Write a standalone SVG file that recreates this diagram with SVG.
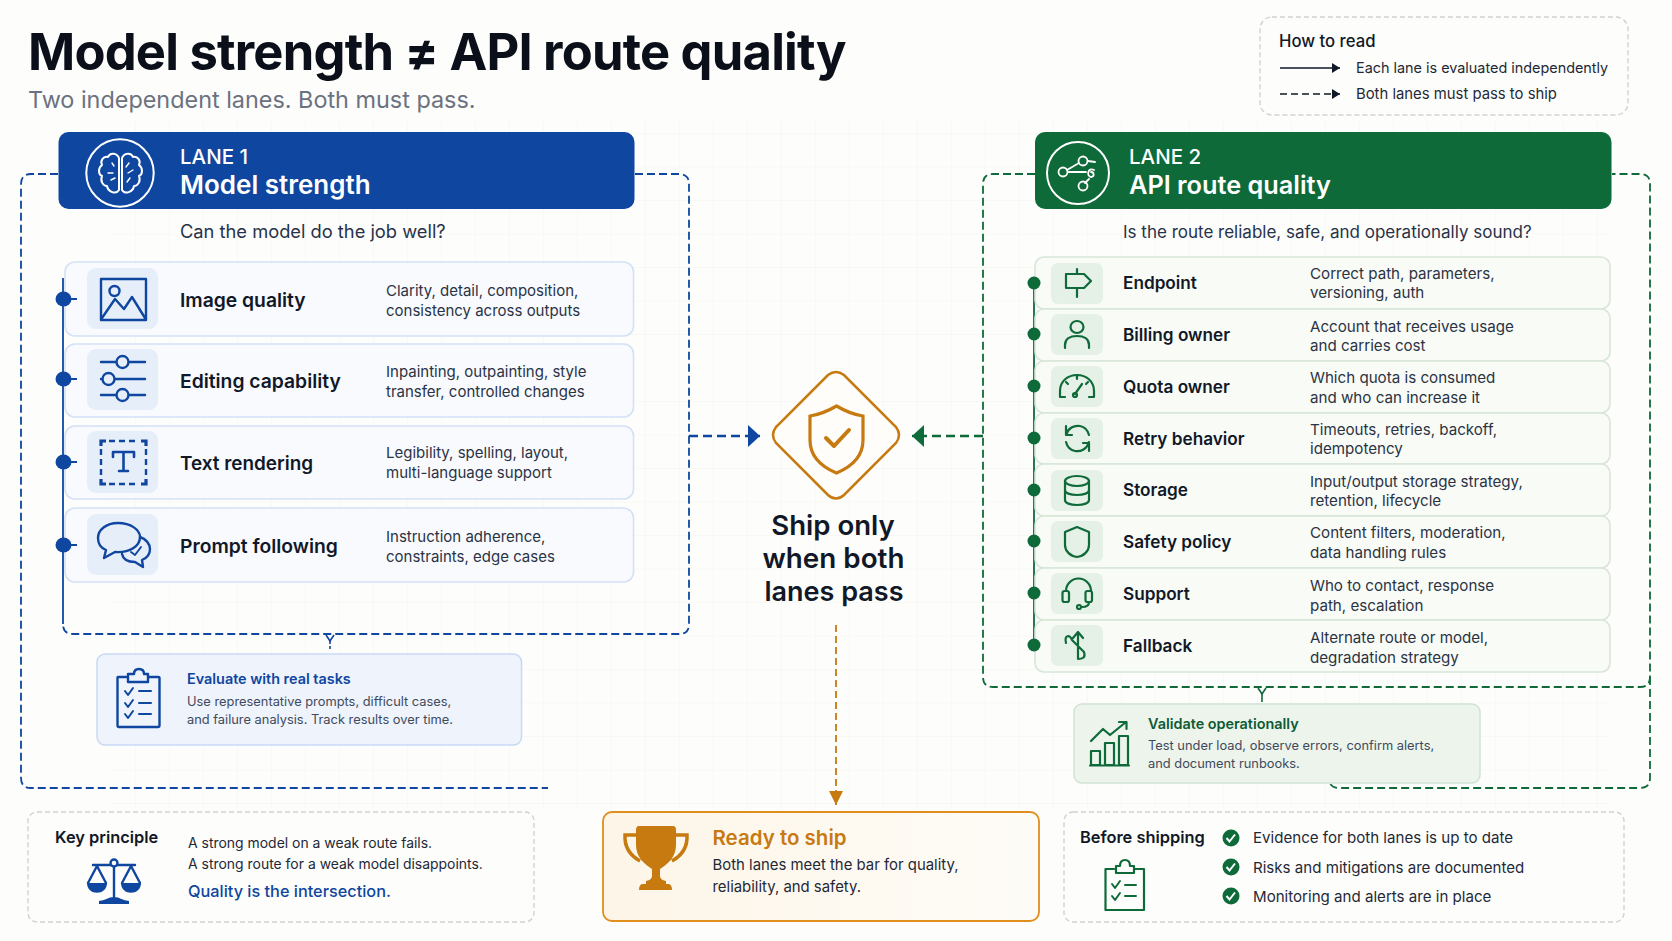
<svg xmlns="http://www.w3.org/2000/svg" width="1672" height="941" viewBox="0 0 1672 941">
<style>
text{font-family:Inter,"Liberation Sans",sans-serif;fill:#1f2937}
.lane{font-size:20.5px;font-weight:500;fill:#fff}
.laneT{font-size:26px;font-weight:600;fill:#fff}
.q{font-size:18.3px;fill:#27324a}
.t1{font-size:19.3px;font-weight:600;fill:#111827}
.t2{font-size:17.2px;font-weight:600;fill:#111827}
.d1{font-size:15px;fill:#2a3344}
.d2{font-size:15.15px;fill:#2a3344}
.s{font-size:12.85px;fill:#3f4a5c}
.h{font-size:16.4px;font-weight:600;fill:#111827}
.b{font-size:13.95px;fill:#1f2937}
.c{font-size:15.1px;fill:#1f2937}
.ctr{font-weight:600;fill:#111827}
.row1{fill:#f8fafe;stroke:#d4e1f7;stroke-width:1.6}
.row2{fill:#f9fbf6;stroke:#d8e6d9;stroke-width:1.6}
.tile1{fill:#e6eefa}
.tile2{fill:#e5f0e6}
.ib{fill:none;stroke:#0f46a0;stroke-width:2.4;stroke-linecap:round;stroke-linejoin:round}
.ig{fill:none;stroke:#0e6a39;stroke-width:2.2;stroke-linecap:round;stroke-linejoin:round}
.iw{fill:none;stroke:#fff;stroke-width:2;stroke-linecap:round;stroke-linejoin:round}
.dashb{fill:none;stroke:#0f46a0;stroke-width:1.8;stroke-dasharray:8 4}
.dashg{fill:none;stroke:#0e6a39;stroke-width:1.8;stroke-dasharray:8 4}
.grey{fill:#fdfdfb;stroke:#cfd2d6;stroke-width:1.4;stroke-dasharray:5 3}
.db{fill:#0f46a0}.dg{fill:#0e6a39}
</style>
<defs>
<pattern id="g" width="34" height="33.5" patternUnits="userSpaceOnUse"><path d="M34 0V33.5M0 33.5H34" fill="none" stroke="#f3f4ef" stroke-width="1"/></pattern>
<linearGradient id="readyFill" x1="0" y1="0" x2="1" y2="0"><stop offset="0" stop-color="#fdf5e7"/><stop offset="1" stop-color="#fefcf8"/></linearGradient>
<marker id="ab" markerUnits="userSpaceOnUse" markerWidth="14" markerHeight="24" refX="13" refY="12" orient="auto"><path d="M1 1L13 12L1 23Z" fill="#0f46a0"/></marker>
<marker id="ag" markerUnits="userSpaceOnUse" markerWidth="14" markerHeight="24" refX="13" refY="12" orient="auto"><path d="M1 1L13 12L1 23Z" fill="#0e6a39"/></marker>
<marker id="ao" markerUnits="userSpaceOnUse" markerWidth="16" markerHeight="14" refX="15" refY="7" orient="auto"><path d="M1 0L15 7L1 14Z" fill="#c67a10"/></marker>
<marker id="ak" markerUnits="userSpaceOnUse" markerWidth="10" markerHeight="12" refX="9" refY="6" orient="auto"><path d="M1 1L9 6L1 11Z" fill="#111827"/></marker>
</defs>
<rect width="1672" height="941" fill="#fdfdfb"/>
<rect x="110" y="120" width="1500" height="690" fill="url(#g)"/>
<g id="title">
<text x="28" y="70" style="font-size:50.7px;font-weight:700;fill:#0b0f19;letter-spacing:-0.8px">Model strength ≠ API route quality</text>
<text x="28" y="108" style="font-size:23.4px;fill:#6b7280">Two independent lanes. Both must pass.</text>
</g>
<g id="connectors">
<path class="dashb" d="M58 174H31Q21 174 21 184V778Q21 788 31 788H548"/>
<path class="dashb" d="M635 174H679Q689 174 689 184V624Q689 634 679 634H73Q63 634 63 624"/>
<path d="M63 278V624" fill="none" stroke="#0f46a0" stroke-width="1.8"/>
<path d="M326 635L330 641L334 635" fill="none" stroke="#0f46a0" stroke-width="1.6"/><path d="M330 641V650" fill="none" stroke="#0f46a0" stroke-width="1.6" stroke-dasharray="3 2"/>
<path class="dashb" d="M689 436H760" style="stroke-width:2.4;stroke-dasharray:9 5" marker-end="url(#ab)"/>
<path class="dashg" d="M1035 174H993Q983 174 983 184V677Q983 687 993 687H1640Q1650 687 1650 677V184Q1650 174 1640 174H1612"/>
<path class="dashg" d="M1650 677V778Q1650 788 1640 788H1339Q1329 788 1329 778"/>
<path d="M1258 688L1262 694L1266 688" fill="none" stroke="#0e6a39" stroke-width="1.6"/><path d="M1262 694V702" fill="none" stroke="#0e6a39" stroke-width="1.6"/>
<path class="dashg" d="M983 436H912" style="stroke-width:2.4;stroke-dasharray:9 5" marker-end="url(#ag)"/>
<path d="M836 625V805" fill="none" stroke="#c67a10" stroke-width="1.8" stroke-dasharray="7 4" marker-end="url(#ao)"/>
<path d="M1034 283V645" fill="none" stroke="#0e6a39" stroke-width="1.8"/>
</g>
<g id="legend">
<rect class="grey" x="1260" y="17" width="368" height="98" rx="12"/>
<text x="1279" y="47" style="font-size:16.7px;font-weight:500;fill:#111827">How to read</text>
<path d="M1280 68H1340" stroke="#111827" stroke-width="1.6" marker-end="url(#ak)"/>
<path d="M1280 94H1340" stroke="#111827" stroke-width="1.6" stroke-dasharray="7 4" marker-end="url(#ak)"/>
<text x="1356" y="73" style="font-size:14.4px;fill:#1f2937">Each lane is evaluated independently</text>
<text x="1356" y="99" style="font-size:14.85px;fill:#1f2937">Both lanes must pass to ship</text>
</g>
<g id="lane1-header">
<rect x="58.500" y="132" width="576" height="77" rx="10" fill="#0f46a0"/>
<circle class="iw" cx="120" cy="173" r="33.700"/>
<path class="iw" d="M119 158C117 153 110 152 108 157C103 156 100 161 102 165C98 168 98 174 102 176C100 181 103 186 107 186C108 192 116 195 119 190ZM122 158C124 153 131 152 133 157C138 156 141 161 139 165C143 168 143 174 139 176C141 181 138 186 134 186C133 192 125 195 122 190Z" style="stroke-width:2"/>
<path class="iw" d="M112 163L114 166M108 173H113M111 180L115 178M129 163L126 167M128 173L133 170M127 182L130 178" style="stroke-width:1.4"/>
<text class="lane" x="180" y="164">LANE 1</text>
<text class="laneT" x="180" y="194">Model strength</text>
</g>
<text class="q" x="180" y="238">Can the model do the job well?</text>
<g id="row-image-quality">
<rect class="row1" x="65" y="262" width="568.500" height="74" rx="10"/>
<rect class="tile1" x="87" y="268" width="71" height="61" rx="9"/>
<path class="ib" d="M101 279H146V320H101ZM102 318L115 299L124 309L132 297L145 318"/><circle class="ib" cx="114.500" cy="291" r="5"/>
<text class="t1" x="180" y="307">Image quality</text>
<text class="d1" x="386" y="296">Clarity, detail, composition,</text>
<text class="d1" x="386" y="316">consistency across outputs</text>
</g>
<g id="row-editing">
<rect class="row1" x="65" y="344" width="568.500" height="73" rx="10"/>
<rect class="tile1" x="87" y="349" width="71" height="61" rx="9"/>
<path class="ib" d="M101 362H116M129 362H145M101 379H102M115 379H145M101 395H116M129 395H145"/><circle class="ib" cx="122.500" cy="362" r="6"/><circle class="ib" cx="108.500" cy="379" r="6"/><circle class="ib" cx="122.500" cy="395" r="6"/>
<text class="t1" x="180" y="388">Editing capability</text>
<text class="d1" x="386" y="377">Inpainting, outpainting, style</text>
<text class="d1" x="386" y="397">transfer, controlled changes</text>
</g>
<g id="row-text">
<rect class="row1" x="65" y="426" width="568.500" height="73" rx="10"/>
<rect class="tile1" x="87" y="431" width="71" height="62" rx="9"/>
<path class="ib" d="M109 441H139M109 484H139M101 449V477M146 449V477" style="stroke-dasharray:6 4;stroke-linecap:butt"/>
<path class="ib" d="M101 446V441H106M141 441H146V446M101 479V484H106M141 484H146V479" style="stroke-width:3.2;stroke-linecap:butt;stroke-linejoin:miter"/>
<path class="ib" d="M113 457V452H134V457M123.500 452V471M119 471H128" style="stroke-width:2.6"/>
<text class="t1" x="180" y="470" style="font-size:18.9px">Text rendering</text>
<text class="d1" x="386" y="458">Legibility, spelling, layout,</text>
<text class="d1" x="386" y="478">multi-language support</text>
</g>
<g id="row-prompt">
<rect class="row1" x="65" y="508" width="568.500" height="74" rx="10"/>
<rect class="tile1" x="87" y="514" width="71" height="61" rx="9"/>
<path class="ib" d="M118 523C106 523 98 530 98 538C98 544 101 548 106 550L104 558L115 552C130 553 140 546 140 537C140 530 131 523 118 523Z"/>
<path class="ib" d="M140 537C146 539 150 544 150 549C150 554 147 558 142 560L143 567L135 562C128 562 123 559 122 554"/>
<path class="ib" d="M131 552l4 3 6-8" style="stroke-width:1.9"/>
<text class="t1" x="180" y="553">Prompt following</text>
<text class="d1" x="386" y="542">Instruction adherence,</text>
<text class="d1" x="386" y="562">constraints, edge cases</text>
</g>
<g id="dots1">
<path d="M63 299H77M63 379H77M63 462H77M63 545H77" stroke="#0f46a0" stroke-width="1.8"/>
<ellipse class="db" cx="63.500" cy="299" rx="8" ry="7.500"/>
<ellipse class="db" cx="63.500" cy="379" rx="8" ry="7.500"/>
<ellipse class="db" cx="63.500" cy="462" rx="8" ry="7.500"/>
<ellipse class="db" cx="63.500" cy="545" rx="8" ry="7.500"/>
</g>
<g id="evaluate">
<rect x="97" y="654" width="424.500" height="91" rx="8" fill="#eef3fc" stroke="#c9d9f3" stroke-width="1.5"/>
<path class="ib" d="M126 677H118Q117.500 677 117.500 678V725Q117.500 727 119 727H158Q159.500 727 159.500 725V678Q159.500 677 158 677H149M128 674H134Q134 669 139 669T144 674H148V682H128Z"/>
<path class="ib" d="M125 691l3 4 5-7M125 703l3 4 5-7M125 714l3 4 5-7M139 691H151M139 703H151M139 714H151" style="stroke-width:2"/>
<text x="187" y="684" style="font-size:14.4px;font-weight:600;fill:#0f46a0">Evaluate with real tasks</text>
<text class="s" x="187" y="706">Use representative prompts, difficult cases,</text>
<text class="s" x="187" y="724">and failure analysis. Track results over time.</text>
</g>
<g id="center">
<path d="M828 375Q836 369 844 375L896 427Q902 435 896 443L844 495Q836 502 828 495L776 443Q770 435 776 427Z" fill="#fefdf9" stroke="#c67a10" stroke-width="2.500"/>
<path d="M836.500 406Q850 414 863 416V440Q863 462 836.500 473Q810 462 810 440V416Q823 414 836.500 406Z" fill="none" stroke="#c67a10" stroke-width="3.200"/>
<path d="M826 438L834 446L849 430" fill="none" stroke="#c67a10" stroke-width="4" stroke-linecap="round" stroke-linejoin="round"/>
<text class="ctr" x="833" y="535" text-anchor="middle" style="font-size:27.6px">Ship only</text>
<text class="ctr" x="833.500" y="568" text-anchor="middle" style="font-size:27.8px">when both</text>
<text class="ctr" x="834" y="601" text-anchor="middle" style="font-size:27px">lanes pass</text>
</g>
<g id="lane2-header">
<rect x="1035" y="132" width="576.500" height="77" rx="10" fill="#0e6a39"/>
<circle class="iw" cx="1078" cy="173" r="31"/>
<path class="iw" d="M1067 170L1079 163M1068 172L1086 172M1089 179L1085 183M1088 161L1095 162M1094 170C1088 167 1086 176 1091 177C1095 177 1094 172 1091 172" style="stroke-width:1.8"/>
<circle class="iw" cx="1063" cy="172" r="4.500" style="stroke-width:1.8"/><circle class="iw" cx="1083" cy="161" r="4.500" style="stroke-width:1.8"/><circle class="iw" cx="1083" cy="186" r="4.500" style="stroke-width:1.8"/>
<text class="lane" x="1129" y="164">LANE 2</text>
<text class="laneT" x="1129" y="194" style="font-size:25.3px">API route quality</text>
</g>
<text class="q" x="1123" y="238" style="font-size:17px">Is the route reliable, safe, and operationally sound?</text>
<g id="row-endpoint">
<rect class="row2" x="1035" y="257" width="575" height="52" rx="9"/>
<rect class="tile2" x="1051" y="263" width="52" height="41" rx="7"/>
<path class="ig" d="M1077 269V274M1077 288V297M1066 274H1084L1091 281L1084 288H1066Z"/>
<text class="t2" x="1123" y="289">Endpoint</text>
<text class="d2" x="1310" y="279">Correct path, parameters,</text>
<text class="d2" x="1310" y="298">versioning, auth</text>
</g>
<g id="row-billing">
<rect class="row2" x="1035" y="309" width="575" height="52" rx="9"/>
<rect class="tile2" x="1051" y="314" width="52" height="41" rx="7"/>
<ellipse class="ig" cx="1077" cy="327" rx="6.500" ry="6"/><path class="ig" d="M1065 348V345C1065 339 1070 336 1077 336S1089 339 1089 345V348"/>
<text class="t2" x="1123" y="341">Billing owner</text>
<text class="d2" x="1310" y="332">Account that receives usage</text>
<text class="d2" x="1310" y="351">and carries cost</text>
</g>
<g id="row-quota">
<rect class="row2" x="1035" y="361" width="575" height="52" rx="9"/>
<rect class="tile2" x="1051" y="366" width="52" height="41" rx="7"/>
<path class="ig" d="M1065 397H1060V391C1060 381 1068 375 1077 375S1094 381 1094 391V397H1089M1077 375V379M1066 382L1068 384M1088 382L1086 384M1075 394L1082 384"/><circle class="ig" cx="1075" cy="395" r="2"/>
<text class="t2" x="1123" y="393">Quota owner</text>
<text class="d2" x="1310" y="383">Which quota is consumed</text>
<text class="d2" x="1310" y="403">and who can increase it</text>
</g>
<g id="row-retry">
<rect class="row2" x="1035" y="413" width="575" height="51" rx="9"/>
<rect class="tile2" x="1051" y="418" width="52" height="41" rx="7"/>
<path class="ig" d="M1066 435C1068 428 1074 425 1080 426C1085 427 1088 431 1089 435M1066 426V435H1072M1089 442C1087 449 1081 452 1075 451C1070 450 1067 446 1066 442M1089 451V443H1083"/>
<text class="t2" x="1123" y="445">Retry behavior</text>
<text class="d2" x="1310" y="435">Timeouts, retries, backoff,</text>
<text class="d2" x="1310" y="454">idempotency</text>
</g>
<g id="row-storage">
<rect class="row2" x="1035" y="464" width="575" height="52" rx="9"/>
<rect class="tile2" x="1051" y="470" width="52" height="41" rx="7"/>
<ellipse class="ig" cx="1077" cy="481" rx="12" ry="5"/><path class="ig" d="M1065 481V500C1065 503 1070 505 1077 505S1089 503 1089 500V481M1065 490C1065 493 1070 495 1077 495S1089 493 1089 490"/>
<text class="t2" x="1123" y="496">Storage</text>
<text class="d2" x="1310" y="487">Input/output storage strategy,</text>
<text class="d2" x="1310" y="506">retention, lifecycle</text>
</g>
<g id="row-safety">
<rect class="row2" x="1035" y="516" width="575" height="52" rx="9"/>
<rect class="tile2" x="1051" y="521" width="52" height="41" rx="7"/>
<path class="ig" d="M1077 527L1089 532V545C1089 551 1084 556 1077 557C1070 556 1065 551 1065 545V532Z"/>
<text class="t2" x="1123" y="548">Safety policy</text>
<text class="d2" x="1310" y="538">Content filters, moderation,</text>
<text class="d2" x="1310" y="558">data handling rules</text>
</g>
<g id="row-support">
<rect class="row2" x="1035" y="568" width="575" height="52" rx="9"/>
<rect class="tile2" x="1051" y="573" width="52" height="41" rx="7"/>
<path class="ig" d="M1066 591A12.500 12.500 0 0 1 1091 591M1089 602C1089 606 1085 607 1082 607"/>
<rect class="ig" x="1062.500" y="591" width="6.500" height="11" rx="2"/><rect class="ig" x="1085.500" y="591" width="6.500" height="11" rx="2"/><circle class="ig" cx="1079" cy="607" r="2"/>
<text class="t2" x="1123" y="600">Support</text>
<text class="d2" x="1310" y="591">Who to contact, response</text>
<text class="d2" x="1310" y="611">path, escalation</text>
</g>
<g id="row-fallback">
<rect class="row2" x="1035" y="620" width="575" height="52" rx="9"/>
<rect class="tile2" x="1051" y="625" width="52" height="41" rx="7"/>
<path class="ig" d="M1078 632V658M1073 638L1078 632L1083 638M1066 643C1064 635 1070 634 1072 640L1084 652C1086 658 1082 659 1078 659"/>
<text class="t2" x="1123" y="652">Fallback</text>
<text class="d2" x="1310" y="643">Alternate route or model,</text>
<text class="d2" x="1310" y="663">degradation strategy</text>
</g>
<g id="dots2">
<ellipse class="dg" cx="1034" cy="283" rx="6.500" ry="6.500"/>
<ellipse class="dg" cx="1034" cy="334" rx="6.500" ry="6.500"/>
<ellipse class="dg" cx="1034" cy="386" rx="6.500" ry="6.500"/>
<ellipse class="dg" cx="1034" cy="438" rx="6.500" ry="6.500"/>
<ellipse class="dg" cx="1034" cy="490" rx="6.500" ry="6.500"/>
<ellipse class="dg" cx="1034" cy="541" rx="6.500" ry="6.500"/>
<ellipse class="dg" cx="1034" cy="593" rx="6.500" ry="6.500"/>
<ellipse class="dg" cx="1034" cy="645" rx="6.500" ry="6.500"/>
</g>
<g id="validate">
<rect x="1074" y="704" width="406" height="79" rx="8" fill="#ecf4ec" stroke="#cfe3d2" stroke-width="1.5"/>
<path class="ig" d="M1091 765V751H1100V765ZM1105 765V743H1114V765ZM1119 765V736H1128V765ZM1090 765.500H1129M1091 741L1103 729L1110 735L1126 722M1119 722H1126.500V729"/>
<text x="1148" y="729" style="font-size:14.4px;font-weight:600;fill:#0e5a33">Validate operationally</text>
<text class="s" x="1148" y="750">Test under load, observe errors, confirm alerts,</text>
<text class="s" x="1148" y="768">and document runbooks.</text>
</g>
<g id="key-principle">
<rect class="grey" x="28" y="812" width="506" height="110" rx="9"/>
<text class="h" x="55" y="843">Key principle</text>
<path class="ib" d="M114 866V897M93 865H135M97 866L88 883M97 866L106 883M131 866L122 883M131 866L140 883"/>
<circle cx="114" cy="863" r="3.500" fill="#fdfdfb" stroke="#0f46a0" stroke-width="2.400"/>
<path d="M87 883H107C107 896 87 896 87 883ZM121 883H141C141 896 121 896 121 883ZM99 901C107 900 108 897 114 897S121 900 129 901V904H99Z" fill="#0f46a0"/>
<text class="b" x="188" y="848">A strong model on a weak route fails.</text>
<text class="b" x="188" y="869">A strong route for a weak model disappoints.</text>
<text x="188" y="897" style="font-size:16.3px;font-weight:500;fill:#0f46a0">Quality is the intersection.</text>
</g>
<g id="ready">
<rect x="603" y="812" width="436" height="109" rx="9" fill="url(#readyFill)" stroke="#e08e1e" stroke-width="1.8"/>
<path d="M639 826H673Q676 826 676 830V845C676 857 668 864 660 869V876Q660 880 666 881V884H669Q672 885 672 890H639Q639 885 642 884H646V881Q652 880 652 876V869C644 864 636 857 636 845V830Q636 826 639 826Z" fill="#c67a10"/>
<path d="M636 835H625Q624 852 640 861M676 835H687Q688 852 672 861" fill="none" stroke="#c67a10" stroke-width="3.500"/>
<text x="712.500" y="845" style="font-size:20.500px;font-weight:600;fill:#c67a10">Ready to ship</text>
<text x="712.500" y="870" style="font-size:14.9px;fill:#1f2937">Both lanes meet the bar for quality,</text>
<text x="712.500" y="892" style="font-size:14.9px;fill:#1f2937">reliability, and safety.</text>
</g>
<g id="before-shipping">
<rect class="grey" x="1064" y="812" width="560" height="110" rx="9"/>
<text class="h" x="1080" y="843">Before shipping</text>
<path class="ig" d="M1114 869H1105.500V910H1144V869H1135M1116 866H1120Q1120 860 1125 860T1130 866H1134V873H1116Z"/>
<path class="ig" d="M1112 884l3 4 5-7M1112 896l3 4 5-7M1125 885H1136M1125 896H1136" style="stroke-width:2"/>
<circle class="dg" cx="1231" cy="838" r="8.500"/><path d="M1226.500 838l3 3.500 5.500-7" fill="none" stroke="#fff" stroke-width="2"/>
<circle class="dg" cx="1231" cy="867" r="8.500"/><path d="M1226.500 867l3 3.500 5.500-7" fill="none" stroke="#fff" stroke-width="2"/>
<circle class="dg" cx="1231" cy="896" r="8.500"/><path d="M1226.500 896l3 3.500 5.500-7" fill="none" stroke="#fff" stroke-width="2"/>
<text class="c" x="1253" y="843">Evidence for both lanes is up to date</text>
<text class="c" x="1253" y="873">Risks and mitigations are documented</text>
<text class="c" x="1253" y="902">Monitoring and alerts are in place</text>
</g>
</svg>
